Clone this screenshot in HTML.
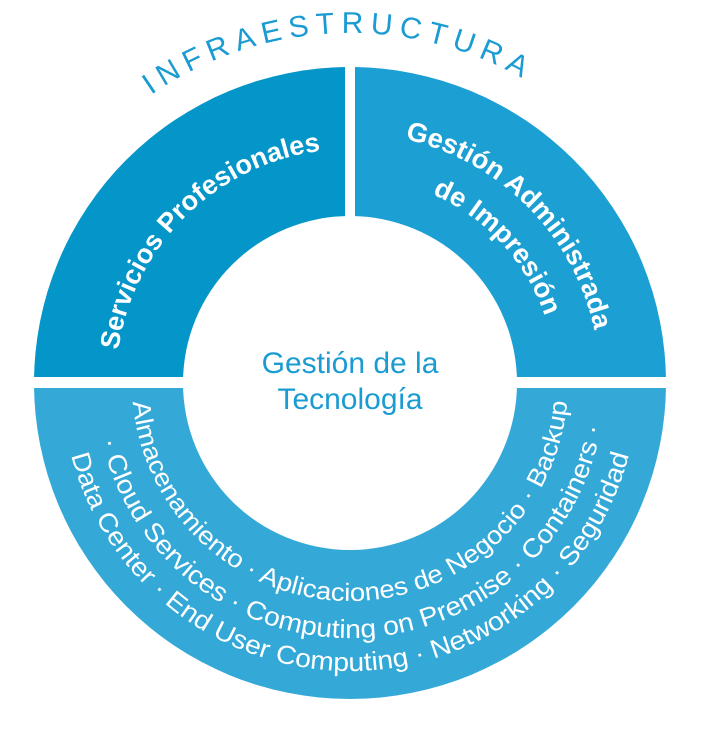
<!DOCTYPE html>
<html><head><meta charset="utf-8"><style>
html,body{margin:0;padding:0;background:#fff;}
svg{display:block;}
text{font-family:"Liberation Sans",sans-serif;}
</style></head><body>
<svg width="703" height="735" viewBox="0 0 703 735" xmlns="http://www.w3.org/2000/svg">
<defs>
<clipPath id="tl"><rect x="0" y="0" width="345" height="377"/></clipPath>
<clipPath id="tr"><rect x="355" y="0" width="348" height="377"/></clipPath>
<clipPath id="bt"><rect x="0" y="388" width="703" height="347"/></clipPath>
<path id="infra" d="M0,383 A350,350 0 0 1 700,383"/>
<path id="sp" d="M116,383 A234,234 0 0 1 584,383"/>
<path id="ga" d="M100,383 A250,250 0 0 1 600,383"/>
<path id="di" d="M144,383 A206,206 0 0 1 556,383"/>
<path id="b1" d="M132,383 A218,218 0 0 0 568,383"/>
<path id="b2" d="M95,383 A255,255 0 0 0 605,383"/>
<path id="b3" d="M62,383 A288,288 0 0 0 638,383"/>
</defs>
<circle cx="350" cy="383" r="316" fill="#0596c9" clip-path="url(#tl)"/>
<circle cx="350" cy="383" r="316" fill="#1ca0d3" clip-path="url(#tr)"/>
<circle cx="350" cy="383" r="316" fill="#34a9d8" clip-path="url(#bt)"/>
<circle cx="350" cy="383" r="167" fill="#fff"/>

<text font-size="30" fill="#1a9bd2"><textPath href="#infra" startOffset="338" textLength="391" lengthAdjust="spacing">INFRAESTRUCTURA</textPath></text>

<text font-size="27" font-weight="600" fill="#fff"><textPath href="#sp" startOffset="33" textLength="305" lengthAdjust="spacingAndGlyphs">Servicios Profesionales</textPath></text>
<text font-size="27" font-weight="600" fill="#fff"><textPath href="#ga" startOffset="448" textLength="284" lengthAdjust="spacingAndGlyphs">Gestión Administrada</textPath></text>
<text font-size="27" font-weight="600" fill="#fff"><textPath href="#di" startOffset="408" textLength="171" lengthAdjust="spacingAndGlyphs">de Impresión</textPath></text>

<text x="350" y="373" font-size="30" fill="#1a9bd2" text-anchor="middle">Gestión de la</text>
<text x="350" y="409" font-size="30" fill="#1a9bd2" text-anchor="middle">Tecnología</text>

<text font-size="25" fill="#fff"><textPath href="#b1" startOffset="19" textLength="647" lengthAdjust="spacingAndGlyphs">Almacenamiento · Aplicaciones de Negocio · Backup</textPath></text>
<text font-size="26" fill="#fff"><textPath href="#b2" startOffset="58" textLength="699" lengthAdjust="spacingAndGlyphs">· Cloud Services · Computing on Premise · Containers ·</textPath></text>
<text font-size="26" fill="#fff"><textPath href="#b3" startOffset="73" textLength="759" lengthAdjust="spacingAndGlyphs">Data Center · End User Computing · Networking · Seguridad</textPath></text>
</svg>
</body></html>
